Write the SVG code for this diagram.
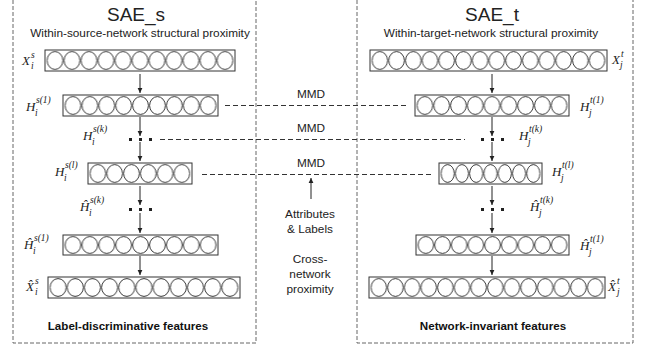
<svg xmlns="http://www.w3.org/2000/svg" width="649" height="351" viewBox="0 0 649 351">
<style>
.t{font-family:"Liberation Sans",Arial,sans-serif;fill:#222}
.title{font-size:19px;text-anchor:middle}
.sub11{font-size:11.8px;text-anchor:middle}
.bold{font-size:11.6px;font-weight:bold;text-anchor:middle;fill:#111}
.m{font-family:"Liberation Serif","Times New Roman",serif;font-style:italic;font-size:13px;fill:#222}
.s{font-family:"Liberation Serif","Times New Roman",serif;font-style:italic;font-size:9.5px;fill:#222}
.box{fill:none;stroke:#333;stroke-width:1}
.cell{fill:#fff;stroke:#222;stroke-width:0.9}
.border{fill:none;stroke:#666;stroke-width:1;stroke-dasharray:4 2}
.conn{fill:none;stroke:#333;stroke-width:1;stroke-dasharray:5 3}
.arr{stroke:#222;stroke-width:1;marker-end:url(#ah)}
.dot{fill:#222}
</style>
<defs>
<marker id="ah" markerWidth="6" markerHeight="6" refX="5" refY="3" orient="auto" markerUnits="userSpaceOnUse">
<path d="M0,0.6 L5,3 L0,5.4 Z" fill="#222"/>
</marker>
<pattern id="pL1" patternUnits="userSpaceOnUse" x="46.5" y="50" width="17" height="21"><ellipse class="cell" cx="8.5" cy="10.5" rx="7.9" ry="8.9"/></pattern>
<pattern id="pL2" patternUnits="userSpaceOnUse" x="64.5" y="95" width="16.9" height="21"><ellipse class="cell" cx="8.45" cy="10.5" rx="7.85" ry="8.9"/></pattern>
<pattern id="pL3" patternUnits="userSpaceOnUse" x="89.5" y="163" width="16.8" height="21"><ellipse class="cell" cx="8.4" cy="10.5" rx="7.8" ry="8.9"/></pattern>
<pattern id="pL4" patternUnits="userSpaceOnUse" x="64.5" y="235" width="16.9" height="20"><ellipse class="cell" cx="8.45" cy="10" rx="7.85" ry="8.4"/></pattern>
<pattern id="pL5" patternUnits="userSpaceOnUse" x="49.5" y="277" width="17.18" height="21"><ellipse class="cell" cx="8.59" cy="10.5" rx="8" ry="8.9"/></pattern>
<pattern id="pR1" patternUnits="userSpaceOnUse" x="371.5" y="50" width="16.71" height="21"><ellipse class="cell" cx="8.355" cy="10.5" rx="7.75" ry="8.9"/></pattern>
<pattern id="pR2" patternUnits="userSpaceOnUse" x="416.5" y="95" width="16.78" height="21"><ellipse class="cell" cx="8.39" cy="10.5" rx="7.8" ry="8.9"/></pattern>
<pattern id="pR3" patternUnits="userSpaceOnUse" x="440.5" y="163" width="14.29" height="21"><ellipse class="cell" cx="7.145" cy="10.5" rx="6.55" ry="8.9"/></pattern>
<pattern id="pR4" patternUnits="userSpaceOnUse" x="417.5" y="235" width="16.67" height="20"><ellipse class="cell" cx="8.335" cy="10" rx="7.75" ry="8.4"/></pattern>
<pattern id="pR5" patternUnits="userSpaceOnUse" x="370.5" y="277" width="16.64" height="21"><ellipse class="cell" cx="8.32" cy="10.5" rx="7.7" ry="8.9"/></pattern>
</defs>

<rect x="0" y="0" width="649" height="351" fill="#fff"/>

<g id="panel-source">
<path class="border" d="M13,0 V343 H256 V0"/>
<text class="t title" x="136" y="21">SAE_s</text>
<text class="t sub11" x="140" y="37">Within-source-network structural proximity</text>
<text class="t bold" x="128" y="330">Label-discriminative features</text>
</g>
<g id="panel-target">
<path class="border" d="M357,0 V343 H633 V0"/>
<text class="t title" x="492" y="21">SAE_t</text>
<text class="t sub11" x="491" y="37">Within-target-network structural proximity</text>
<text class="t bold" x="493" y="330">Network-invariant features</text>
</g>

<g id="connectors">
<line class="conn" x1="225" y1="105.5" x2="409" y2="105.5"/>
<line class="conn" x1="160" y1="139.5" x2="465" y2="139.5"/>
<line class="conn" x1="202" y1="174.5" x2="432" y2="174.5"/>
<line class="arr" x1="140" y1="74" x2="140" y2="93"/>
<line class="arr" x1="140" y1="117" x2="140" y2="136"/>
<line class="arr" x1="140" y1="142" x2="140" y2="161"/>
<line class="arr" x1="140" y1="186" x2="140" y2="205"/>
<line class="arr" x1="140" y1="213" x2="140" y2="233"/>
<line class="arr" x1="140" y1="256" x2="140" y2="275"/>
<line class="arr" x1="492" y1="74" x2="492" y2="93"/>
<line class="arr" x1="492" y1="117" x2="492" y2="136"/>
<line class="arr" x1="492" y1="142" x2="492" y2="161"/>
<line class="arr" x1="492" y1="186" x2="492" y2="205"/>
<line class="arr" x1="492" y1="213" x2="492" y2="233"/>
<line class="arr" x1="492" y1="256" x2="492" y2="275"/>
<line class="arr" x1="311" y1="199" x2="311" y2="178"/>
<g class="dot">
<rect x="129" y="138" width="3" height="3"/><rect x="139" y="138" width="3" height="3"/><rect x="149" y="138" width="3" height="3"/>
<rect x="129" y="208" width="3" height="3"/><rect x="139" y="208" width="3" height="3"/><rect x="149" y="208" width="3" height="3"/>
<rect x="481" y="138" width="3" height="3"/><rect x="491" y="138" width="3" height="3"/><rect x="501" y="138" width="3" height="3"/>
<rect x="481" y="208" width="3" height="3"/><rect x="491" y="208" width="3" height="3"/><rect x="501" y="208" width="3" height="3"/>
</g>
<text class="t sub11" x="311" y="98">MMD</text>
<text class="t sub11" x="311" y="132">MMD</text>
<text class="t sub11" x="311" y="167">MMD</text>
</g>

<g id="middle-labels">
<text class="t sub11" x="310" y="218">Attributes</text>
<text class="t sub11" x="310" y="233">&amp; Labels</text>
<text class="t sub11" x="310" y="263">Cross-</text>
<text class="t sub11" x="310" y="278">network</text>
<text class="t sub11" x="310" y="293">proximity</text>
</g>

<g id="node-Xs">
<rect x="46.5" y="50" width="187" height="21" fill="url(#pL1)"/>
<rect class="box" x="45" y="50" width="190" height="21"/>
<text class="m" x="22" y="65">X</text><text class="s" x="31" y="58">s</text><text class="s" x="31" y="69">i</text>
</g>
<g id="node-Hs1">
<rect x="64.5" y="95" width="152.1" height="21" fill="url(#pL2)"/>
<rect class="box" x="63" y="95" width="155" height="21"/>
<text class="m" x="26" y="111">H</text><text class="s" x="36" y="103">s(1)</text><text class="s" x="35" y="116">i</text>
</g>
<g id="node-Hsk">
<text class="m" x="83" y="140">H</text><text class="s" x="93" y="132">s(k)</text><text class="s" x="92" y="145">i</text>
</g>
<g id="node-Hsl">
<rect x="89.5" y="163" width="100.8" height="21" fill="url(#pL3)"/>
<rect class="box" x="88" y="163" width="104" height="21"/>
<text class="m" x="55" y="176">H</text><text class="s" x="65" y="168">s(l)</text><text class="s" x="64" y="181">i</text>
</g>
<g id="node-Hhsk">
<text class="m" x="80" y="211">Ĥ</text><text class="s" x="90" y="203">s(k)</text><text class="s" x="89" y="216">i</text>
</g>
<g id="node-Hhs1">
<rect x="64.5" y="235" width="152.1" height="20" fill="url(#pL4)"/>
<rect class="box" x="63" y="235" width="155" height="20"/>
<text class="m" x="24" y="249">Ĥ</text><text class="s" x="34" y="241">s(1)</text><text class="s" x="33" y="254">i</text>
</g>
<g id="node-Xhs">
<rect x="49.5" y="277" width="189" height="21" fill="url(#pL5)"/>
<rect class="box" x="48" y="277" width="192" height="21"/>
<text class="m" x="26" y="291">X̂</text><text class="s" x="35" y="284">s</text><text class="s" x="35" y="295">i</text>
</g>

<g id="node-Xt">
<rect x="371.5" y="50" width="234" height="21" fill="url(#pR1)"/>
<rect class="box" x="370" y="50" width="237" height="21"/>
<text class="m" x="612" y="64">X</text><text class="s" x="621" y="57">t</text><text class="s" x="620" y="68">j</text>
</g>
<g id="node-Ht1">
<rect x="416.5" y="95" width="151" height="21" fill="url(#pR2)"/>
<rect class="box" x="415" y="95" width="154" height="21"/>
<text class="m" x="580" y="111">H</text><text class="s" x="590" y="103">t(1)</text><text class="s" x="589" y="116">j</text>
</g>
<g id="node-Htk">
<text class="m" x="519" y="140">H</text><text class="s" x="529" y="132">t(k)</text><text class="s" x="528" y="145">j</text>
</g>
<g id="node-Htl">
<rect x="440.5" y="163" width="100" height="21" fill="url(#pR3)"/>
<rect class="box" x="439" y="163" width="103" height="21"/>
<text class="m" x="552" y="176">H</text><text class="s" x="562" y="168">t(l)</text><text class="s" x="561" y="181">j</text>
</g>
<g id="node-Hhtk">
<text class="m" x="530" y="211">Ĥ</text><text class="s" x="540" y="203">t(k)</text><text class="s" x="539" y="216">j</text>
</g>
<g id="node-Hht1">
<rect x="417.5" y="235" width="150" height="20" fill="url(#pR4)"/>
<rect class="box" x="416" y="235" width="153" height="20"/>
<text class="m" x="580" y="250">Ĥ</text><text class="s" x="590" y="242">t(1)</text><text class="s" x="589" y="255">j</text>
</g>
<g id="node-Xht">
<rect x="370.5" y="277" width="233" height="21" fill="url(#pR5)"/>
<rect class="box" x="369" y="277" width="236" height="21"/>
<text class="m" x="608" y="291">X̂</text><text class="s" x="617" y="284">t</text><text class="s" x="617" y="295">j</text>
</g>
</svg>
